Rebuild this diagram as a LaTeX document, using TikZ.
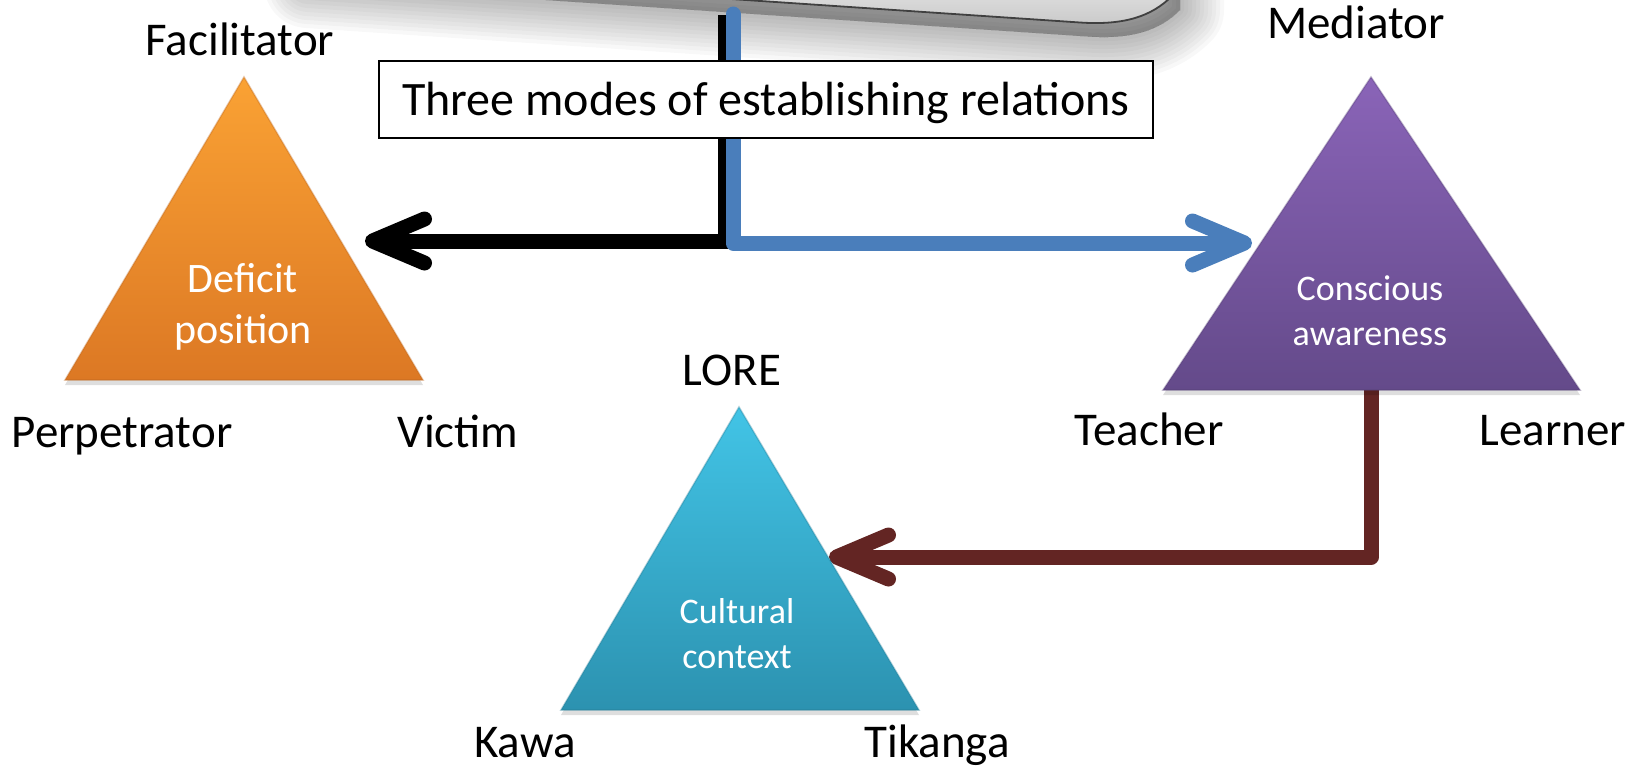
\documentclass[tikz,border=0pt]{standalone}
\usepackage{fontspec}
\setmainfont{Carlito}
\usetikzlibrary{arrows.meta}
\definecolor{orTop}{RGB}{250,162,52}
\definecolor{orBot}{RGB}{220,120,36}
\definecolor{puTop}{RGB}{138,100,184}
\definecolor{puBot}{RGB}{100,74,138}
\definecolor{cyTop}{RGB}{66,196,230}
\definecolor{cyBot}{RGB}{44,146,176}
\definecolor{arrBlue}{RGB}{74,126,187}
\definecolor{arrBrown}{RGB}{99,37,35}
\begin{document}
\begin{tikzpicture}[x=0.5pt,y=-0.5pt,
  lbl/.style={font=\fontsize{23.5}{28}\selectfont, anchor=base, inner sep=0pt},
  innerbig/.style={font=\fontsize{21}{25}\selectfont, text=white, anchor=base, inner sep=0pt},
  innersmall/.style={font=\fontsize{18}{22}\selectfont, text=white, anchor=base, inner sep=0pt},
  conn/.style={line width=7.5pt, -{Straight Barb[length=26pt,width=22pt,round]}},
  trishadow/.style={fill=black, opacity=0.13},
  titlebox/.style={draw=black, line width=1pt, fill=white, inner sep=0pt,
    minimum width=387pt, minimum height=38.5pt, text height=15.5pt, text depth=0pt,
    font=\fontsize{24}{28}\selectfont}
]
\useasboundingbox (0,0) rectangle (1646,768);

% ---- gray object at the top with soft shadow ----
\def\grayshape{(300,-30) -- (1080,22.5) .. controls (1125,25.5) and (1152,16) .. (1172,-4) -- (1172,-40) -- (300,-40) -- cycle}
\begin{scope}[shift={(8,14)}]
\foreach \w in {44,40,36,32,28,24,20,16,12,8,4,0}{
  \filldraw[black, opacity=0.026, line width=\w pt, line join=round] \grayshape;
}
\end{scope}
\shade[top color=gray!12, bottom color=gray!42] \grayshape;
\draw[gray!50!black, line width=0.9pt] (300,-30) -- (1080,22.5) .. controls (1125,25.5) and (1152,16) .. (1172,-4);

% ---- triangle corners ----
\coordinate (oA) at (244,77);  \coordinate (oB) at (65,380);  \coordinate (oC) at (423,380);
\coordinate (pA) at (1371,77); \coordinate (pB) at (1163,390); \coordinate (pC) at (1580,390);
\coordinate (cA) at (739,407); \coordinate (cB) at (561,710);  \coordinate (cC) at (919,710);

% ---- connector end points ----
\coordinate (bstart) at (725,15);
\coordinate (btip) at (365,241);
\coordinate (ustart) at (733,14);
\coordinate (utip) at (1252,243);
\coordinate (rstart) at (1371,385);
\coordinate (rtip) at (829,557);

% ---- connectors (behind boxes) ----
\draw[conn, black, line cap=butt, line join=miter] (bstart) |- (btip);
\draw[conn, arrBlue, line cap=round, line join=round] (ustart) |- (utip);
\draw[conn, arrBrown, line cap=round, line join=round] (rstart) |- (rtip);

% ---- triangles ----
\fill[trishadow] ([yshift=-2pt]oA) -- ([yshift=-2.5pt]oB) -- ([yshift=-2.5pt]oC) -- cycle;
\shade[top color=orTop, bottom color=orBot] (oA) -- (oB) -- (oC) -- cycle;
\draw[orBot!85!black, opacity=0.35, line width=0.8pt] (oA) -- (oB) -- (oC) -- cycle;

\fill[trishadow] ([yshift=-2pt]pA) -- ([yshift=-2.5pt]pB) -- ([yshift=-2.5pt]pC) -- cycle;
\shade[top color=puTop, bottom color=puBot] (pA) -- (pB) -- (pC) -- cycle;
\draw[puBot!85!black, opacity=0.35, line width=0.8pt] (pA) -- (pB) -- (pC) -- cycle;

\fill[trishadow] ([yshift=-2pt]cA) -- ([yshift=-2.5pt]cB) -- ([yshift=-2.5pt]cC) -- cycle;
\shade[top color=cyTop, bottom color=cyBot] (cA) -- (cB) -- (cC) -- cycle;
\draw[cyBot!85!black, opacity=0.35, line width=0.8pt] (cA) -- (cB) -- (cC) -- cycle;

% ---- title box ----
\node[titlebox] (title) at (766,99.5) {Three modes of establishing relations};

% ---- inner texts ----
\node[innerbig] (def1) at (243,292) {Deficit};
\node[innerbig] (def2) at (243,343) {position};
\node[innersmall] (con1) at (1370,300) {Conscious};
\node[innersmall] (con2) at (1370,345) {awareness};
\node[innersmall] (cul1) at (737,623) {Cultural};
\node[innersmall] (cul2) at (737,668) {context};

% ---- corner labels ----
\node[lbl] (fac) at (240,55) {Facilitator};
\node[lbl] (per) at (122,447) {Perpetrator};
\node[lbl] (vic) at (458,447) {Victim};
\node[lbl] (med) at (1356,38) {Mediator};
\node[lbl] (tea) at (1149,445) {Teacher};
\node[lbl] (lea) at (1553,445) {Learner};
\node[lbl] (lore) at (732,385) {LORE};
\node[lbl] (kawa) at (525,757) {Kawa};
\node[lbl] (tik) at (937,757) {Tikanga};
\end{tikzpicture}
\end{document}
